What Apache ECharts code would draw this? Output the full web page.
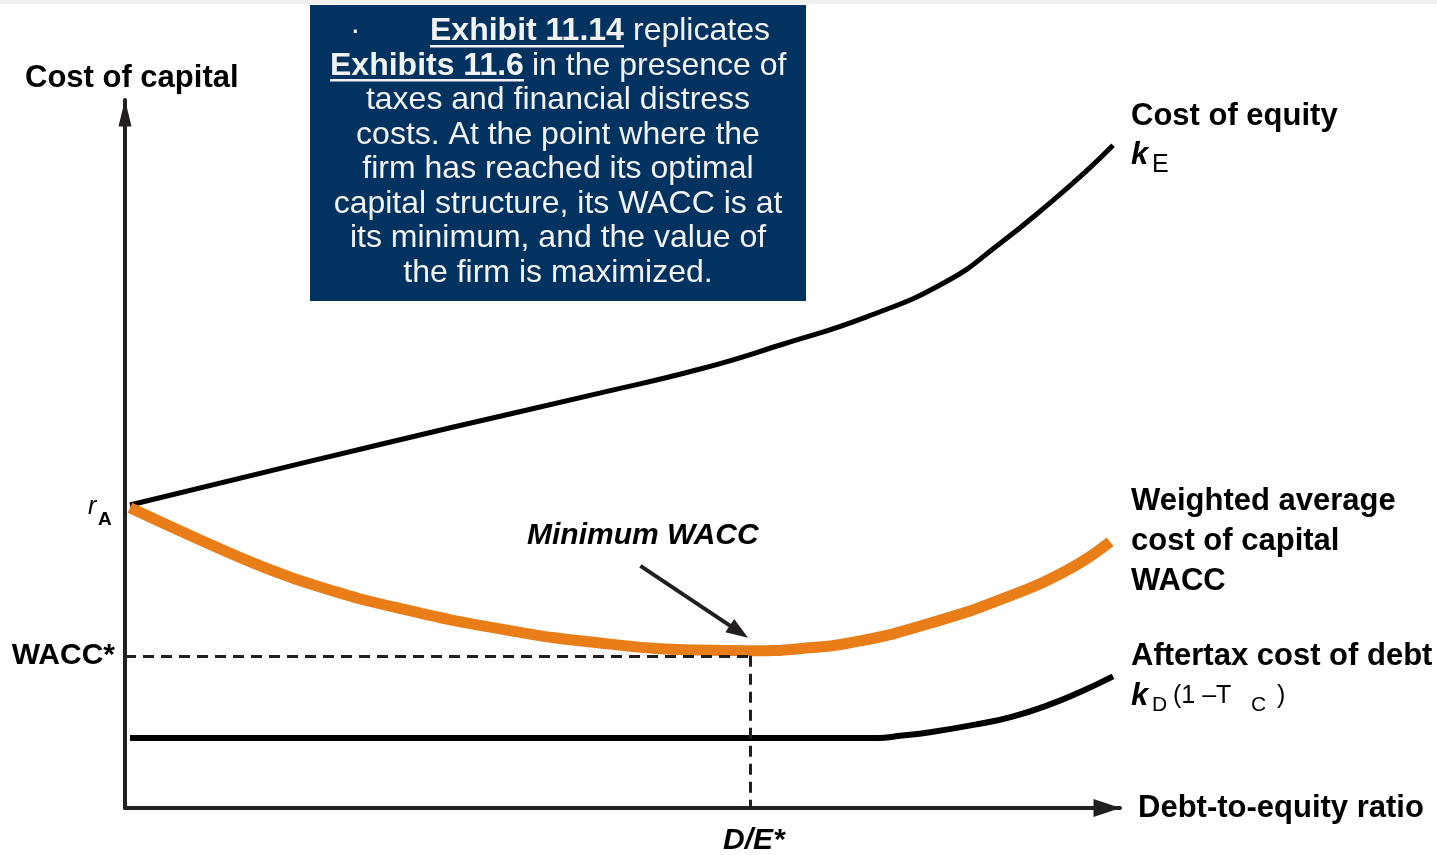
<!DOCTYPE html>
<html>
<head>
<meta charset="utf-8">
<script src="https://cdn.jsdelivr.net/npm/echarts@6/dist/echarts.min.js"></script>
<style>
  html, body { margin: 0; padding: 0; background: #ffffff; }
  #chart { width: 1437px; height: 855px; }
</style>
</head>
<body>
<div id="chart"></div>
<script>
// Cost of capital vs. debt-to-equity ratio (conceptual units, 0–100 on both axes)
const FONT = "'Liberation Sans', Arial, Helvetica, sans-serif";

// Cost of equity k_E
const equityX = [0.5, 17.5, 32.7, 47.7, 57.8, 66.1, 74.6, 82.6, 87.9, 93.0, 96.5, 99.3];
const equityY = [42.8, 48.6, 53.7, 58.6, 62.0, 65.5, 69.4, 74.4, 79.7, 85.5, 89.8, 93.6];

// Weighted average cost of capital
const waccX = [0.5, 7.5, 13.6, 19.6, 27.6, 37.7, 47.7, 57.8, 62.8, 67.8, 73.9, 80.9, 87.9, 94.7, 99.0];
const waccY = [42.4, 37.9, 34.2, 31.2, 28.2, 25.3, 23.3, 22.3, 22.2, 22.5, 23.6, 26.1, 29.4, 33.6, 37.6];

// After-tax cost of debt k_D(1 - T_C)
const debtX = [0.5, 37.7, 75.6, 77.9, 80.9, 85.9, 89.2, 92.7, 96.0, 99.3];
const debtY = [9.9, 9.9, 9.9, 10.2, 10.7, 11.9, 12.9, 14.5, 16.4, 18.6];

// Reference levels
const R_A = 42.6;        // unlevered cost r_A
const WACC_STAR = 21.5;  // minimum WACC level
const DE_STAR = 62.8;    // optimal debt-to-equity ratio

// "Minimum WACC" pointer
const pointerFrom = [51.8, 34.2];
const pointerTo = [61.7, 24.9];

const pairs = (xs, ys) => xs.map((x, i) => [x, ys[i]]);

const AXIS_COLOR = '#231f20';
const ORANGE = '#e97d17';

const chart = echarts.init(document.getElementById('chart'), null, { renderer: 'canvas' });

const axisCommon = {
  type: 'value',
  min: 0,
  max: 100,
  axisTick: { show: false },
  axisLabel: { show: false },
  splitLine: { show: false }
};

chart.setOption({
  animation: false,
  backgroundColor: '#ffffff',
  grid: { left: 125, right: 317, top: 100, bottom: 47, containLabel: false },
  xAxis: Object.assign({}, axisCommon, {
    axisLine: {
      show: true, onZero: false,
      symbol: ['none', 'triangle'], symbolSize: [18, 27], symbolOffset: [0, -13],
      lineStyle: { color: AXIS_COLOR, width: 4 }
    }
  }),
  yAxis: Object.assign({}, axisCommon, {
    axisLine: {
      show: true, onZero: false,
      symbol: ['none', 'triangle'], symbolSize: [13, 27], symbolOffset: [0, -13],
      lineStyle: { color: AXIS_COLOR, width: 4 }
    }
  }),
  series: [
    {
      name: 'guides', type: 'line', data: [], silent: true, z: 1,
      markLine: {
        silent: true, animation: false,
        symbol: ['none', 'none'],
        label: { show: false },
        lineStyle: { color: AXIS_COLOR, width: 3, type: [11, 7] },
        data: [
          [{ coord: [0, WACC_STAR] }, { coord: [DE_STAR, WACC_STAR] }],
          [{ coord: [DE_STAR, WACC_STAR] }, { coord: [DE_STAR, 0] }]
        ]
      }
    },
    {
      name: 'Cost of equity', type: 'line', data: pairs(equityX, equityY),
      smooth: 0.5, showSymbol: false, clip: false, z: 3,
      lineStyle: { color: '#000000', width: 5 }
    },
    {
      name: 'After-tax cost of debt', type: 'line', data: pairs(debtX, debtY),
      smooth: 0.5, showSymbol: false, clip: false, z: 3,
      lineStyle: { color: '#000000', width: 6 }
    },
    {
      name: 'WACC', type: 'line', data: pairs(waccX, waccY),
      smooth: 0.5, showSymbol: false, clip: false, z: 4,
      lineStyle: { color: ORANGE, width: 11 }
    },
    {
      name: 'pointer', type: 'line', data: [], silent: true, z: 5,
      markLine: {
        silent: true, animation: false,
        symbol: ['none', 'triangle'], symbolSize: [16, 22],
        label: { show: false },
        lineStyle: { color: AXIS_COLOR, width: 4, type: 'solid' },
        data: [[{ coord: pointerFrom }, { coord: pointerTo }]]
      }
    }
  ]
});

// Text annotations
const txt = (x, y, text, size, opts) => Object.assign({
  type: 'text', x: x, y: y, z: 20,
  style: Object.assign({
    text: text, fontSize: size, fontFamily: FONT, fontWeight: 'bold',
    fill: '#000000', align: 'left', verticalAlign: 'middle'
  }, (opts && opts.style) || {})
}, opts && opts.el ? opts.el : {});

const boxFill = '#f2f2f2';
const boxText = (x, y, text, align, bold) => txt(x, y, text, 32, {
  style: { fill: boxFill, align: align, fontWeight: bold ? 'bold' : 'normal' }
});

const rA = chart.convertToPixel({ gridIndex: 0 }, [0, R_A]);
const wStar = chart.convertToPixel({ gridIndex: 0 }, [0, WACC_STAR]);
const deStar = chart.convertToPixel({ gridIndex: 0 }, [DE_STAR, 0]);

const graphics = [
  // faint band along the top edge
  { type: 'rect', shape: { x: 0, y: 0, width: 1437, height: 4 }, style: { fill: '#efefef' }, z: 0 },
  // note box
  { type: 'rect', shape: { x: 310, y: 5, width: 496, height: 296 }, style: { fill: '#02325f' }, z: 10 },
  boxText(350, 31, '·', 'left', false),
  boxText(430, 31, 'Exhibit 11.14', 'left', true),
  boxText(633, 31, 'replicates', 'left', false),
  boxText(330, 66, 'Exhibits 11.6', 'left', true),
  boxText(532, 66, 'in the presence of', 'left', false),
  boxText(558, 100, 'taxes and financial distress', 'center', false),
  boxText(558, 135, 'costs. At the point where the', 'center', false),
  boxText(558, 169, 'firm has reached its optimal', 'center', false),
  boxText(558, 204, 'capital structure, its WACC is at', 'center', false),
  boxText(558, 238, 'its minimum, and the value of', 'center', false),
  boxText(558, 273, 'the firm is maximized.', 'center', false),
  { type: 'rect', shape: { x: 430, y: 45, width: 194, height: 2.5 }, style: { fill: boxFill }, z: 21 },
  { type: 'rect', shape: { x: 330, y: 79, width: 194, height: 2.5 }, style: { fill: boxFill }, z: 21 },

  // axis titles
  txt(25, 78, 'Cost of capital', 31),
  txt(1138, 808, 'Debt-to-equity ratio', 31),

  // curve labels
  txt(1131, 116, 'Cost of equity', 31),
  txt(1131, 155, 'k', 31, { style: { fontStyle: 'italic' } }),
  txt(1152, 165, 'E', 25, { style: { fontWeight: 'normal' } }),

  txt(1131, 501, 'Weighted average', 31),
  txt(1131, 541, 'cost of capital', 31),
  txt(1131, 581, 'WACC', 31),

  txt(1131, 656, 'Aftertax cost of debt', 31),
  txt(1131, 696, 'k', 31, { style: { fontStyle: 'italic' } }),
  txt(1152, 705, 'D', 21, { style: { fontWeight: 'normal' } }),
  txt(1173, 696, '(1 –T', 25, { style: { fontWeight: 'normal' } }),
  txt(1251, 705, 'C', 21, { style: { fontWeight: 'normal' } }),
  txt(1277, 696, ')', 25, { style: { fontWeight: 'normal' } }),

  // reference-level labels
  txt(rA[0] - 37, rA[1] + 1, 'r', 25, { style: { fontStyle: 'italic', fontWeight: 'normal' } }),
  txt(rA[0] - 27, rA[1] + 13, 'A', 19),
  txt(wStar[0] - 10, wStar[1], 'WACC*', 30, { style: { align: 'right' } }),
  txt(deStar[0] + 4, deStar[1] + 33, 'D/E*', 30, { style: { align: 'center', fontStyle: 'italic' } }),
  txt(527, 536, 'Minimum WACC', 30, { style: { fontStyle: 'italic' } })
];

chart.setOption({ graphic: graphics });
</script>
</body>
</html>
